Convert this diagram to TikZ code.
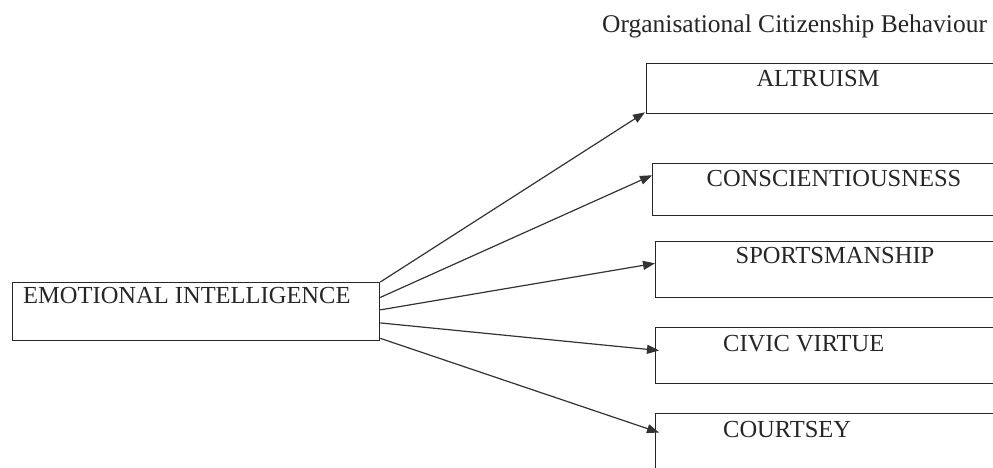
\documentclass[tikz,border=0pt]{standalone}
\usepackage{fontspec}
\setmainfont{Liberation Serif}
\usetikzlibrary{arrows.meta,calc}
\begin{document}
\begin{tikzpicture}[x=1pt,y=-1pt,
  box/.style={draw=black!85,line width=1.3pt,rectangle,inner sep=0pt,anchor=north west},
  lbl/.style={font=\fontsize{24.5}{28}\selectfont,inner sep=0pt,text=black!85},
  arr/.style={draw=black!80,line width=1.2pt,-{Triangle[length=12pt,width=9pt]}}]
\useasboundingbox (0,0) rectangle (993,467);
\clip (0,0) rectangle (993,467);
\fill[white] (0,0) rectangle (993,467);
% boxes
\node[box,minimum width=367pt,minimum height=58pt] (ei) at (12,282) {};
\node[box,minimum width=420pt,minimum height=50pt] (alt) at (646,63) {};
\node[box,minimum width=420pt,minimum height=52pt] (con) at (652,163) {};
\node[box,minimum width=420pt,minimum height=56pt] (spo) at (655,241) {};
\node[box,minimum width=420pt,minimum height=56pt] (civ) at (655,327) {};
\node[box,minimum width=420pt,minimum height=80pt] (cou) at (655,413) {};
% labels
\node[lbl,font=\fontsize{25.5}{29}\selectfont,anchor=base west] (title) at (602,32) {Organisational Citizenship Behaviour};
\node[lbl,anchor=base west] (eiT) at (23,303) {EMOTIONAL INTELLIGENCE};
\node[lbl,anchor=base] (altT) at (818,86) {ALTRUISM};
\node[lbl,anchor=base] (conT) at (834,186) {CONSCIENTIOUSNESS};
\node[lbl,anchor=base] (spoT) at (835,263) {SPORTSMANSHIP};
\node[lbl,anchor=base west] (civT) at (723,351) {CIVIC VIRTUE};
\node[lbl,anchor=base west] (couT) at (723,437) {COURTSEY};
% arrows
\draw[arr] ($(ei.north east)!0.0!(ei.south east)$) -- ($(alt.south west)+(-1,-2)$);
\draw[arr] ($(ei.north east)!0.26!(ei.south east)$) -- ($(con.north west)!0.23!(con.south west)$);
\draw[arr] ($(ei.north east)!0.47!(ei.south east)$) -- ($(spo.north west)!0.39!(spo.south west)$);
\draw[arr] ($(ei.north east)!0.69!(ei.south east)$) -- ($(civ.north west)!0.41!(civ.south west)+(4,0)$);
\draw[arr] ($(ei.north east)!0.95!(ei.south east)$) -- ($(cou.north west)!0.24!(cou.south west)+(4,0)$);
\end{tikzpicture}
\end{document}
